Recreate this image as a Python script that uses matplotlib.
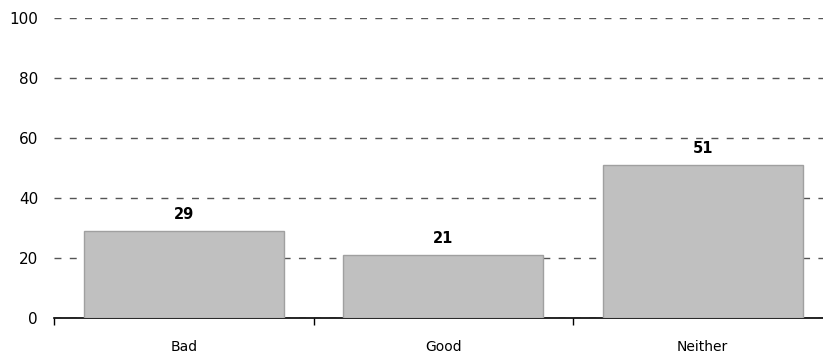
import matplotlib
matplotlib.use('Agg')
import matplotlib.pyplot as plt
from matplotlib.ticker import FixedLocator, NullFormatter

categories = ['Bad', 'Good', 'Neither']
values = [29, 21, 51]
yticks = [0, 20, 40, 60, 80, 100]

plt.rcParams['font.family'] = ['DejaVu Sans']

fig = plt.figure(figsize=(8.23, 3.54), dpi=100)
ax = fig.add_axes([54 / 823, 1 - 318 / 354, 778.5 / 823, 300 / 354])

x = list(range(len(categories)))
bars = ax.bar(x, values, width=0.77, color='#c0c0c0', edgecolor='#a0a0a0', linewidth=1, zorder=3)

# value labels above each bar
for b, v in zip(bars, values):
    ax.text(b.get_x() + b.get_width() / 2, v + 3, str(v), ha='center', va='bottom',
            fontsize=10.5, fontweight='bold', color='black')

ax.set_xlim(-0.5, len(categories) - 0.5)
ax.set_ylim(0, 100)
ax.set_yticks(yticks)
ax.yaxis.grid(True, linestyle=(0, (5, 6)), color='#555555', linewidth=1)
ax.set_axisbelow(True)

for s in ['top', 'right', 'left']:
    ax.spines[s].set_visible(False)
ax.spines['bottom'].set_color('black')
ax.spines['bottom'].set_linewidth(1.2)

ax.set_xticks(x)
ax.set_xticklabels(categories, fontsize=10)
ax.tick_params(axis='x', which='major', length=0, pad=15.5)
ax.xaxis.set_minor_locator(FixedLocator([-0.5, 0.5, 1.5]))
ax.xaxis.set_minor_formatter(NullFormatter())
ax.tick_params(axis='x', which='minor', length=5, color='black', width=1)
ax.tick_params(axis='y', length=0, pad=11.5, labelsize=11)

fig.savefig('out.png', dpi=100)
